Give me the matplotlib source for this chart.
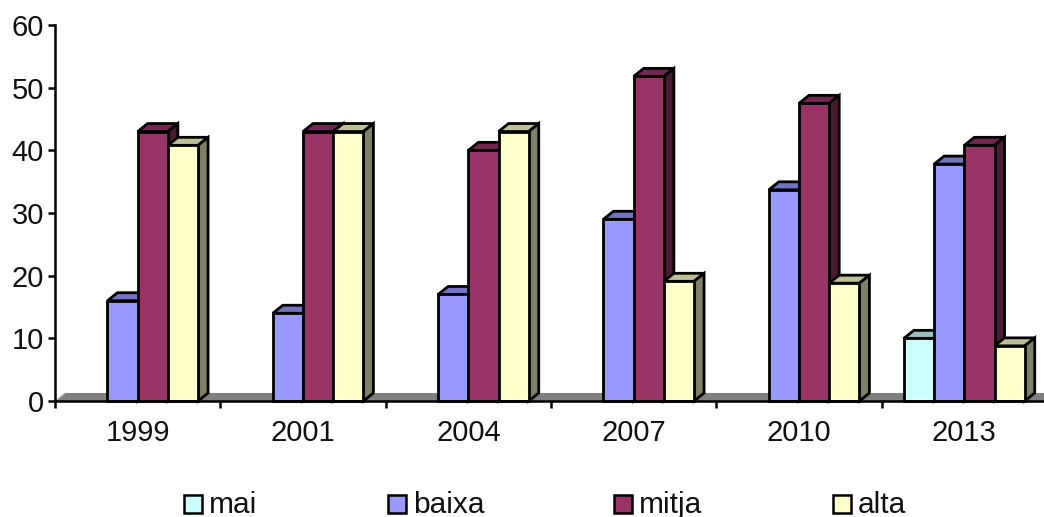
#!/usr/bin/env python3
"""Grouped pseudo-3D bar chart: mai / baixa / mitja / alta per year."""
import matplotlib
matplotlib.use("Agg")
import matplotlib.pyplot as plt
from matplotlib.patches import Polygon, Rectangle

plt.rcParams["font.family"] = ["Liberation Sans", "DejaVu Sans"]

years = ["1999", "2001", "2004", "2007", "2010", "2013"]
series_names = ["mai", "baixa", "mitja", "alta"]
mai = [0, 0, 0, 0, 0, 10]
baixa = [16, 14, 17, 29, 33.7, 37.8]
mitja = [43, 43, 40, 51.8, 47.5, 40.8]
alta = [40.8, 43, 43, 19.1, 18.8, 8.8]
series = [mai, baixa, mitja, alta]

front_colors = ["#CCFFFF", "#9999FF", "#993366", "#FFFFCC"]
top_colors = ["#99BFBF", "#7373BF", "#732650", "#BFBF99"]
side_colors = ["#668080", "#4D4D80", "#4D1A33", "#808066"]
legend_x = [184, 388, 614, 833]

FIG_W, FIG_H = 1044, 517
AX_L, AX_R, AX_TOP, AX_BOTTOM = 55, 1047, 25, 401

fig = plt.figure(figsize=(FIG_W / 100, FIG_H / 100), dpi=100)
ax = fig.add_axes([
    AX_L / FIG_W,
    1 - AX_BOTTOM / FIG_H,
    (AX_R - AX_L) / FIG_W,
    (AX_BOTTOM - AX_TOP) / FIG_H,
])
ax.set_xlim(0, len(years))
ax.set_ylim(0, 60)

# depth of the fake 3D, converted from pixels to data units
dx = 10 / ((AX_R - AX_L) / len(years))
dy = 8 / ((AX_BOTTOM - AX_TOP) / 60)
bar_w = 30.2 / ((AX_R - AX_L) / len(years))
edge = 2.0

# grey floor
ax.add_patch(Polygon([(0, 0), (len(years), 0), (len(years) + dx, dy), (dx, dy)],
                     closed=True, facecolor="#808080", edgecolor="none",
                     clip_on=False, zorder=1))
ax.plot([0, dx], [0, dy], color="#C8C8C8", lw=0.8, clip_on=False, zorder=1.5)

z = 2
for g in range(len(years)):
    for s, vals in enumerate(series):
        v = vals[g]
        if v == 0:
            continue
        x0 = g + 0.5 + (s - 2) * bar_w
        x1 = x0 + bar_w
        ax.add_patch(Polygon([(x0, v), (x1, v), (x1 + dx, v + dy), (x0 + dx, v + dy)],
                             closed=True, facecolor=top_colors[s], edgecolor="black",
                             lw=edge, joinstyle="miter", clip_on=False, zorder=z))
        ax.add_patch(Polygon([(x1, 0), (x1 + dx, dy), (x1 + dx, v + dy), (x1, v)],
                             closed=True, facecolor=side_colors[s], edgecolor="black",
                             lw=edge, joinstyle="miter", clip_on=False, zorder=z))
        ax.bar(x0, v, width=bar_w, align="edge", color=front_colors[s],
               edgecolor="black", linewidth=edge, clip_on=False, zorder=z + 0.5)
        z += 1

for side in ["top", "right"]:
    ax.spines[side].set_visible(False)
for side in ["left", "bottom"]:
    ax.spines[side].set_linewidth(1.8)
    ax.spines[side].set_zorder(z + 1)

ax.set_yticks(range(0, 61, 10))
ax.set_xticks(range(len(years) + 1))
ax.set_xticklabels([])
ax.set_xticks([i + 0.5 for i in range(len(years))], labels=years, minor=True)
ax.tick_params(axis="x", which="major", length=5, width=1.8, direction="out")
ax.tick_params(axis="x", which="minor", length=0, labelsize=21, pad=13)
ax.tick_params(axis="y", length=5, width=1.8, direction="out", labelsize=21, pad=3)
for label in ax.get_yticklabels() + ax.get_xticklabels(minor=True):
    label.set_color("#111111")

# legend laid out by hand, it sits low and runs off the bottom edge
for name, color, lx in zip(series_names, front_colors, legend_x):
    fig.add_artist(Rectangle((lx / FIG_W, 1 - 513 / FIG_H), 18 / FIG_W, 18 / FIG_H,
                             transform=fig.transFigure, facecolor=color,
                             edgecolor="black", linewidth=1.8))
    fig.text((lx + 25) / FIG_W, 1 - 513 / FIG_H, name, fontsize=21.5,
             color="#111111", ha="left", va="baseline")

fig.savefig("out.png", dpi=100)
